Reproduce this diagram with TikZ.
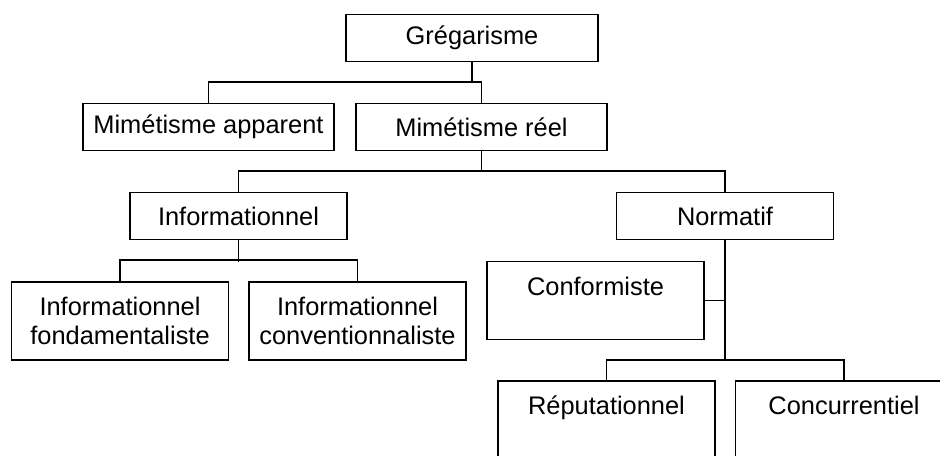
\documentclass[tikz,border=0pt]{standalone}
\usepackage{fontspec}
\setmainfont{Liberation Sans}

\tikzset{
 box/.style={draw, line width=.9pt, inner sep=0pt, minimum width=108.5pt, minimum height=23.5pt, align=center, font=\fontsize{12.7pt}{14.5pt}\selectfont},
 wide/.style={minimum width=125.8pt},
 tall/.style={minimum height=39pt},
}

\begin{document}
\begin{tikzpicture} [x=0.5pt, y=-0.5pt, line width=.9pt]
\useasboundingbox (0,0) rectangle (940,455);
\clip (0,0) rectangle (940,455);
\node[box,wide] (greg) at (472,38)   {Grégarisme};
\node[box,wide] (ma)   at (208.5,127) {Mimétisme apparent};
\node[box,wide] (mr)   at (481.5,127) {Mimétisme réel};
\node[box] (info) at (238.5,216) {Informationnel};
\node[box] (norm) at (725,216)   {Normatif};
\node[box,tall] (iF)   at (120,321)   {Informationnel\\fondamentaliste};
\node[box,tall] (iC)   at (357.5,321) {Informationnel\\conventionnaliste};
\node[box,tall] (conf) at (595.5,300.5) {Conformiste\\~};
\node[box,tall] (rep)  at (606.5,420) {Réputationnel\\~};
\node[box,tall] (conc) at (844,420)   {Concurrentiel\\~};
\draw (greg.south) -- ++(0,21);
\draw (ma.north) --++(0,-21) -| (mr.north);
\draw (mr.south) -- ++(0,20.5);
\draw (info.north) --++(0,-21) -| (norm.north);
\draw (info.south) -- ++(0,21.5);
\draw (iF.north) --++(0,-21) -| (iC.north);
\draw (norm.south) -- ++(0,121);
\draw (conf.east) -- (conf.east -| norm.south);
\draw (rep.north) --++(0,-20) -| (conc.north);
\end{tikzpicture}
\end{document}
